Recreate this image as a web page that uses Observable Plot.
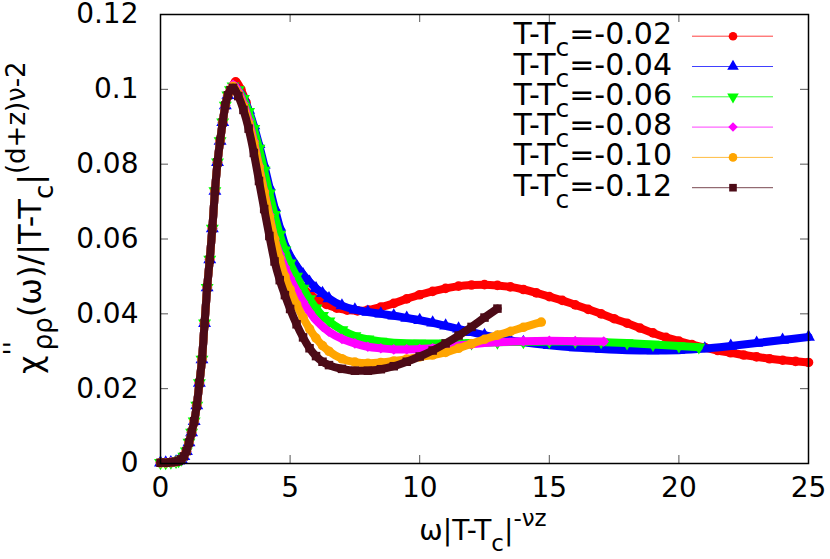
<!DOCTYPE html>
<html><head><meta charset="utf-8">
<script src="https://cdn.jsdelivr.net/npm/d3@7"></script>
<script src="https://cdn.jsdelivr.net/npm/@observablehq/plot@0.6"></script>
<style>
body{margin:0;background:#fff;}
#chart{width:830px;height:559px;}
</style></head><body><div id="chart"></div>
<script>
const xTicks = [0, 5, 10, 15, 20, 25];
const xTickLabels = ["0", "5", "10", "15", "20", "25"];
const yTicks = [0, 0.02, 0.04, 0.06, 0.08, 0.1, 0.12];
const yTickLabels = ["0", "0.02", "0.04", "0.06", "0.08", "0.1", "0.12"];
const seriesLabels = ["-0.02", "-0.04", "-0.06", "-0.08", "-0.10", "-0.12"];
const seriesColors = ["#ff0000", "#0000ff", "#00ff00", "#ff00ff", "#ffa500", "#4c0b17"];
const seriesSymbols = ["circle", "triangle", "triangle", "diamond2", "circle", "square"];
const seriesRotate = [0, 0, 180, 0, 0, 0];

// shared rising part (all series collapse)
const riseX = [0, 0.2, 0.4, 0.6, 0.7, 0.8, 0.9, 1.0, 1.1, 1.2, 1.3, 1.4, 1.5, 1.6, 1.7, 1.8, 1.9, 2.0, 2.1, 2.2, 2.3, 2.4, 2.5, 2.6, 2.7];
const riseY = [0.0002, 0.0002, 0.0003, 0.0005, 0.0007, 0.0011, 0.0019, 0.0033, 0.0056, 0.0083, 0.0113, 0.0155, 0.0215, 0.0278, 0.0375, 0.047, 0.0545, 0.0628, 0.0728, 0.0805, 0.0862, 0.0912, 0.0957, 0.0984, 0.0998];

// T-Tc = -0.02
const redX = [2.9, 3.1, 3.3, 3.5, 3.7, 3.9, 4.1, 4.3, 4.5, 4.7, 4.9, 5.2, 5.5, 5.8, 6.1, 6.4, 6.8, 7.2, 7.6, 8.0, 8.5, 9.0, 9.5, 10.0, 10.5, 11.0, 11.5, 12.0, 12.5, 13.0, 13.5, 14.0, 14.5, 15.0, 15.5, 16.0, 16.5, 17.0, 17.5, 18.0, 18.5, 19.0, 19.5, 20.0, 20.5, 21.0, 21.5, 22.0, 22.5, 23.0, 23.5, 24.0, 24.5, 25.0];
const redY = [0.1020, 0.1000, 0.0965, 0.0915, 0.0858, 0.0795, 0.0732, 0.0672, 0.0620, 0.0575, 0.0540, 0.0500, 0.0470, 0.0450, 0.0436, 0.0425, 0.0415, 0.0410, 0.0408, 0.0410, 0.0418, 0.0428, 0.0440, 0.0451, 0.0460, 0.0468, 0.0474, 0.0477, 0.0478, 0.0476, 0.0472, 0.0465, 0.0456, 0.0446, 0.0436, 0.0424, 0.0412, 0.0400, 0.0387, 0.0375, 0.0362, 0.0349, 0.0337, 0.0327, 0.0318, 0.0310, 0.0302, 0.0296, 0.0290, 0.0285, 0.0280, 0.0276, 0.0273, 0.0270];
// T-Tc = -0.04
const blueX = [2.8, 3.0, 3.2, 3.4, 3.6, 3.8, 4.0, 4.2, 4.4, 4.6, 4.8, 5.0, 5.25, 5.5, 5.75, 6.0, 6.25, 6.5, 7.0, 7.5, 8.0, 8.5, 9.0, 9.5, 10.0, 10.5, 11.0, 11.5, 12.0, 12.5, 13.0, 13.5, 14.0, 15.0, 16.0, 17.0, 18.0, 19.0, 20.0, 21.0, 22.0, 23.0, 24.0, 25.0];
const blueY = [0.1005, 0.0998, 0.0978, 0.0945, 0.0903, 0.0853, 0.0798, 0.0740, 0.0684, 0.0632, 0.0585, 0.0555, 0.0528, 0.0505, 0.0485, 0.0468, 0.0455, 0.0441, 0.0422, 0.0411, 0.0405, 0.0400, 0.0395, 0.0389, 0.0383, 0.0376, 0.0368, 0.0360, 0.0351, 0.0343, 0.0336, 0.0329, 0.0324, 0.0316, 0.0310, 0.0306, 0.0303, 0.0302, 0.0303, 0.0307, 0.0314, 0.0322, 0.0330, 0.0338];
// T-Tc = -0.06
const greenX = [2.8, 3.0, 3.2, 3.4, 3.6, 3.8, 4.0, 4.2, 4.4, 4.6, 4.8, 5.0, 5.25, 5.5, 5.75, 6.0, 6.25, 6.5, 7.0, 7.5, 8.0, 8.5, 9.0, 10.0, 11.0, 12.0, 13.0, 14.0, 15.0, 16.0, 17.0, 18.0, 19.0, 20.0, 20.77];
const greenY = [0.1008, 0.0998, 0.0975, 0.0940, 0.0895, 0.0842, 0.0783, 0.0722, 0.0665, 0.0612, 0.0570, 0.0535, 0.0500, 0.0468, 0.0440, 0.0415, 0.0395, 0.0380, 0.0357, 0.0341, 0.0332, 0.0326, 0.0323, 0.0321, 0.0321, 0.0322, 0.0324, 0.0325, 0.0326, 0.0326, 0.0325, 0.0322, 0.0318, 0.0314, 0.0311];
// T-Tc = -0.08
const magentaX = [2.8, 3.0, 3.2, 3.4, 3.6, 3.8, 4.0, 4.2, 4.4, 4.6, 4.8, 5.0, 5.25, 5.5, 5.75, 6.0, 6.25, 6.5, 7.0, 7.5, 8.0, 8.5, 9.0, 9.5, 10.0, 10.5, 11.0, 12.0, 13.0, 14.0, 15.0, 16.0, 17.1];
const magentaY = [0.1012, 0.0995, 0.0962, 0.0918, 0.0862, 0.0795, 0.0728, 0.0665, 0.0600, 0.0560, 0.0525, 0.0495, 0.0462, 0.0432, 0.0405, 0.0383, 0.0366, 0.0352, 0.0333, 0.0321, 0.0312, 0.0308, 0.0305, 0.0305, 0.0306, 0.0308, 0.0312, 0.0319, 0.0324, 0.0327, 0.0328, 0.0327, 0.0326];
// T-Tc = -0.10
const orangeX = [2.8, 3.0, 3.2, 3.4, 3.6, 3.8, 4.0, 4.2, 4.4, 4.6, 4.8, 5.0, 5.25, 5.5, 5.75, 6.0, 6.25, 6.5, 7.0, 7.5, 8.0, 8.5, 9.0, 9.5, 10.0, 10.5, 11.0, 11.5, 12.0, 12.5, 13.0, 13.5, 14.0, 14.69];
const orangeY = [0.1008, 0.0988, 0.0955, 0.0908, 0.0856, 0.0792, 0.0725, 0.0660, 0.0600, 0.0548, 0.0500, 0.0465, 0.0425, 0.0390, 0.0360, 0.0335, 0.0315, 0.0300, 0.0280, 0.0271, 0.0268, 0.0270, 0.0274, 0.0279, 0.0285, 0.0290, 0.0297, 0.0308, 0.0320, 0.0332, 0.0343, 0.0353, 0.0364, 0.0378];
// T-Tc = -0.12
const darkX = [2.8, 3.0, 3.2, 3.4, 3.6, 3.8, 4.0, 4.2, 4.4, 4.6, 4.8, 5.0, 5.25, 5.5, 5.75, 6.0, 6.25, 6.5, 7.0, 7.5, 8.0, 8.5, 9.0, 9.5, 10.0, 10.5, 11.0, 11.5, 12.0, 12.5, 13.0];
const darkY = [0.1004, 0.0982, 0.0945, 0.0895, 0.0830, 0.0755, 0.0680, 0.0608, 0.0540, 0.0490, 0.0450, 0.0413, 0.0372, 0.0337, 0.0308, 0.0287, 0.0272, 0.0263, 0.0253, 0.0248, 0.0248, 0.0252, 0.0260, 0.0272, 0.0286, 0.0302, 0.0321, 0.0342, 0.0365, 0.0390, 0.0414];

const tailX = [redX, blueX, greenX, magentaX, orangeX, darkX];
const tailY = [redY, blueY, greenY, magentaY, orangeY, darkY];

const W = 830, H = 559, mL = 160, mR = 22, mT = 14, mB = 96;
const pw = W - mL - mR, ph = H - mT - mB;
const FONT = "DejaVu Sans";

const seriesMarks = [];
seriesLabels.forEach((lab, i) => {
  const pts = riseX.map((x, j) => ({x, y: riseY[j]}))
    .concat(tailX[i].map((x, j) => ({x, y: tailY[i][j]})))
    .filter(d => d.x <= 25);
  seriesMarks.push(Plot.line(pts, {x: "x", y: "y", stroke: seriesColors[i], strokeWidth: 8, curve: "monotone-x"}));
  seriesMarks.push(Plot.dot(pts, {x: "x", y: "y", fill: seriesColors[i], stroke: "none", symbol: seriesSymbols[i], r: 4.8, rotate: seriesRotate[i]}));
});

const chart = Plot.plot({
  width: W, height: H,
  marginLeft: mL, marginRight: mR, marginTop: mT, marginBottom: mB,
  style: {fontFamily: FONT, background: "white", color: "black", overflow: "visible"},
  x: {domain: [0, 25]},
  y: {domain: [0, 0.12]},
  marks: [
    ...seriesMarks,
    Plot.tickX(xTicks, {x: d => d, insetTop: ph - 8, stroke: "#555", strokeWidth: 1}),
    Plot.tickX(xTicks, {x: d => d, insetBottom: ph - 8, stroke: "#555", strokeWidth: 1}),
    Plot.tickY(yTicks, {y: d => d, insetRight: pw - 8, stroke: "#555", strokeWidth: 1}),
    Plot.tickY(yTicks, {y: d => d, insetLeft: pw - 8, stroke: "#555", strokeWidth: 1}),
    Plot.frame({stroke: "black", strokeWidth: 1.5}),
    Plot.axisX(xTicks, {tickSize: 0, tickPadding: 14, fontSize: 28, label: null, tickFormat: (d, i) => xTickLabels[i]}),
    Plot.axisY(yTicks, {tickSize: 0, tickPadding: 22, fontSize: 28, label: null, tickFormat: (d, i) => yTickLabels[i]})
  ]
});
document.getElementById("chart").appendChild(chart);

const svg = d3.select(chart);
const NS = 28, SS = 23;

// y-axis label (rotated)
const YS = 32, YSS = 26;
const yl = svg.append("text")
  .attr("transform", "translate(41,374) rotate(-90)")
  .attr("text-anchor", "start")
  .attr("font-family", FONT).attr("font-size", YS).attr("fill", "black");
yl.append("tspan").text("χ");
yl.append("tspan").attr("font-size", YSS).attr("dy", -18).text("''");
yl.append("tspan").attr("font-size", YSS).attr("dx", -9).attr("dy", 29).text("ρρ");
yl.append("tspan").attr("dy", -11).text("(ω)/|T-T");
yl.append("tspan").attr("font-size", YSS).attr("dy", 12).text("c");
yl.append("tspan").attr("dy", -12).text("|");
yl.append("tspan").attr("font-size", YSS).attr("dy", -16).text("(d+z)ν-2");

// x-axis label
const xl = svg.append("text")
  .attr("x", 483).attr("y", 540).attr("text-anchor", "middle")
  .attr("font-family", FONT).attr("font-size", NS).attr("fill", "black");
xl.append("tspan").text("ω|T-T");
xl.append("tspan").attr("font-size", SS).attr("dy", 11).text("c");
xl.append("tspan").attr("dy", -11).text("|");
xl.append("tspan").attr("font-size", SS).attr("dy", -14).text("-νz");

// legend
const LS = 30, LSS = 25;
const symMap = {circle: d3.symbolCircle, triangle: d3.symbolTriangle, diamond2: d3.symbolDiamond2, square: d3.symbolSquare};
seriesLabels.forEach((lab, i) => {
  const cy = 36.2 + 30.3 * i;
  const t = svg.append("text").attr("x", 672).attr("y", cy + 8).attr("text-anchor", "end")
    .attr("font-family", FONT).attr("font-size", LS).attr("fill", "black");
  t.append("tspan").text("T-T");
  t.append("tspan").attr("font-size", LSS).attr("dy", 12).text("c");
  t.append("tspan").attr("dy", -12).text("=" + lab);
  svg.append("line").attr("x1", 692).attr("x2", 773).attr("y1", cy).attr("y2", cy)
    .attr("stroke", seriesColors[i]).attr("stroke-width", 1).attr("stroke-opacity", 0.75);
  svg.append("path")
    .attr("d", d3.symbol(symMap[seriesSymbols[i]], Math.PI * 4.3 * 4.3)())
    .attr("transform", `translate(733,${cy}) rotate(${seriesRotate[i]})`)
    .attr("fill", seriesColors[i]);
});
</script></body></html>
